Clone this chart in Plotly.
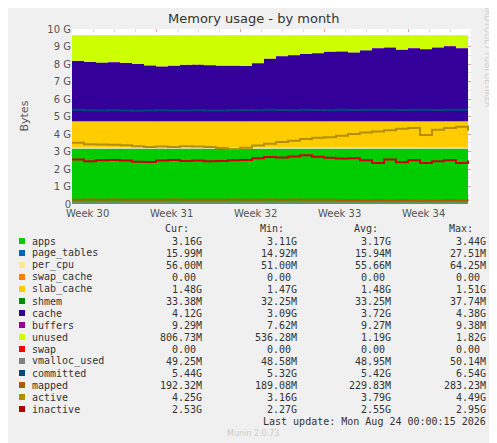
import plotly.graph_objects as go

# days since start of Week 30, one sample per day
days = list(range(34))
apps = [3.16] * 34
page_tables = [0.016] * 34
per_cpu = [0.056] * 34
swap_cache = [0.0] * 34
slab_cache = [1.48] * 34
shmem = [0.033] * 34
cache_top = [8.18, 8.12, 8.08, 8.1, 8.06, 8.0, 7.92, 7.86, 7.9, 7.95, 7.96, 7.93, 7.9, 7.9, 7.88,
             8.05, 8.3, 8.45, 8.5, 8.58, 8.62, 8.7, 8.72, 8.66, 8.78, 8.9, 8.95, 8.82, 8.9, 8.85,
             8.95, 9.02, 8.9, 8.8]
buffers = [0.009] * 34
total = [9.65] * 34
committed = [5.38, 5.36, 5.34, 5.36, 5.35, 5.33, 5.34, 5.36, 5.35, 5.34, 5.36, 5.35, 5.34, 5.36, 5.37,
             5.36, 5.38, 5.37, 5.36, 5.38, 5.37, 5.36, 5.38, 5.37, 5.38, 5.39, 5.38, 5.37, 5.38, 5.38,
             5.37, 5.38, 5.38, 5.38]
mapped = [0.25, 0.26, 0.25, 0.26, 0.25, 0.25, 0.24, 0.25, 0.26, 0.25, 0.25, 0.24, 0.25, 0.26, 0.25,
          0.25, 0.26, 0.25, 0.26, 0.25, 0.25, 0.24, 0.22, 0.21, 0.2, 0.21, 0.2, 0.21, 0.2, 0.19,
          0.2, 0.21, 0.2, 0.19]
vmalloc = [0.049] * 34
active = [3.5, 3.42, 3.4, 3.38, 3.36, 3.3, 3.26, 3.28, 3.26, 3.3, 3.28, 3.26, 3.2, 3.14, 3.22,
          3.35, 3.45, 3.55, 3.62, 3.72, 3.78, 3.82, 3.9, 4.0, 4.08, 4.15, 4.22, 4.3, 4.35, 3.95,
          4.25, 4.35, 4.42, 4.2]
inactive = [2.55, 2.45, 2.5, 2.52, 2.48, 2.42, 2.4, 2.48, 2.52, 2.46, 2.48, 2.44, 2.46, 2.5, 2.52,
            2.62, 2.68, 2.66, 2.72, 2.78, 2.7, 2.64, 2.6, 2.62, 2.5, 2.35, 2.55, 2.38, 2.5, 2.35,
            2.45, 2.5, 2.35, 2.48]

base = [a + b + c + d + e + f for a, b, c, d, e, f in
        zip(apps, page_tables, per_cpu, swap_cache, slab_cache, shmem)]
cache = [t - b for t, b in zip(cache_top, base)]
unused = [tot - t - bu for tot, t, bu in zip(total, cache_top, buffers)]

stack = [("apps", apps, "#00CC00"), ("page_tables", page_tables, "#0066B3"),
         ("per_cpu", per_cpu, "#FFE88A"), ("swap_cache", swap_cache, "#FF8000"),
         ("slab_cache", slab_cache, "#FFCC00"), ("shmem", shmem, "#008F00"),
         ("cache", cache, "#330099"), ("buffers", buffers, "#990099"),
         ("unused", unused, "#CCFF00")]
lines = [("vmalloc_used", vmalloc, "#808080"), ("committed", committed, "#00487D"),
         ("mapped", mapped, "#B35A00"), ("active", active, "#B38F00"),
         ("inactive", inactive, "#CC0000")]

fig = go.Figure()
for name, vals, col in stack:
    fig.add_trace(go.Scatter(x=days, y=vals, stackgroup="s", mode="none", fillcolor=col,
                             line_shape="hv", name=name))
for name, vals, col in lines:
    fig.add_trace(go.Scatter(x=days, y=vals, mode="lines", line=dict(color=col, width=2),
                             line_shape="hv", name=name))

# reference pixel coordinates, shifted for the page offset seen in rendering
DX, DY = 3, 7
L, T, W, H = 67 - DX, 28 - DY, 399, 175


def px(x):
    return (x - DX - L) / W


def py(y):
    return (T + H - (y - DY)) / H


mono = dict(family="DejaVu Sans Mono", size=10, color="#333")
ann = []
for x, t in [(186, "Cur:"), (281, "Min:"), (375, "Avg:"), (470, "Max:")]:
    ann.append(dict(x=px(x), y=py(227), text=t, xanchor="right", font=mono))
legend = [
    ("apps", "#00CC00", "3.16G", "3.11G", "3.17G", "3.44G"),
    ("page_tables", "#0066B3", "15.99M", "14.92M", "15.94M", "27.51M"),
    ("per_cpu", "#FFE88A", "56.00M", "51.00M", "55.66M", "64.25M"),
    ("swap_cache", "#FF8000", "0.00 ", "0.00 ", "0.00 ", "0.00 "),
    ("slab_cache", "#FFCC00", "1.48G", "1.47G", "1.48G", "1.51G"),
    ("shmem", "#008F00", "33.38M", "32.25M", "33.25M", "37.74M"),
    ("cache", "#330099", "4.12G", "3.09G", "3.72G", "4.38G"),
    ("buffers", "#990099", "9.29M", "7.62M", "9.27M", "9.38M"),
    ("unused", "#CCFF00", "806.73M", "536.28M", "1.19G", "1.82G"),
    ("swap", "#FF0000", "0.00 ", "0.00 ", "0.00 ", "0.00 "),
    ("vmalloc_used", "#808080", "49.25M", "48.58M", "48.95M", "50.14M"),
    ("committed", "#00487D", "5.44G", "5.32G", "5.42G", "6.54G"),
    ("mapped", "#B35A00", "192.32M", "189.08M", "229.83M", "283.23M"),
    ("active", "#B38F00", "4.25G", "3.16G", "3.79G", "4.49G"),
    ("inactive", "#B30000", "2.53G", "2.27G", "2.55G", "2.95G"),
]
shapes = []
for i, (name, col, *vals) in enumerate(legend):
    yy = 240 + 12 * i
    shapes.append(dict(type="rect", xref="paper", yref="paper", x0=px(14), x1=px(20),
                       y0=py(yy + 3), y1=py(yy - 3), fillcolor=col, line_width=0))
    ann.append(dict(x=px(25), y=py(yy), text=name, xanchor="left", font=mono))
    for x, v in zip([199, 294, 388, 483], vals):
        ann.append(dict(x=px(x), y=py(yy), text=v.replace(" ", "&nbsp;"), xanchor="right", font=mono))
ann.append(dict(x=px(483), y=py(420), text="Last update: Mon Aug 24 00:00:15 2026",
                xanchor="right", font=mono))
ann.append(dict(x=px(248), y=py(432), text="Munin 2.0.73", font=dict(family="DejaVu Sans", size=8, color="#ccc")))
ann.append(dict(x=px(488), y=py(55), text="RRDTOOL / TOBI OETIKER", textangle=90,
                font=dict(family="DejaVu Sans", size=8, color="#ccc")))
ann.append(dict(x=px(248), y=py(18), text="Memory usage - by month",
                font=dict(family="DejaVu Sans", size=13, color="#333")))
ann.append(dict(x=px(10), y=py(115), text="Bytes", textangle=-90,
                font=dict(family="DejaVu Sans", size=11, color="#555")))
for i, w in enumerate(["Week 30", "Week 31", "Week 32", "Week 33", "Week 34"]):
    ann.append(dict(x=i * 7 + 1.25, xref="x", y=py(212), text=w,
                    font=dict(family="DejaVu Sans", size=10, color="#555")))
for a in ann:
    a.setdefault("xref", "paper")
    a["yref"] = "paper"
    a["showarrow"] = False
    a["yanchor"] = "middle"

fig.update_layout(
    width=497, height=443, margin=dict(l=L, r=497 - L - W, t=T, b=443 - T - H),
    paper_bgcolor="#f0f0f0", plot_bgcolor="#ffffff", showlegend=False,
    annotations=ann, shapes=shapes,
    xaxis=dict(range=[0, 33.25], tickvals=[0, 7, 14, 21, 28], showticklabels=False,
               showgrid=True, gridcolor="rgba(230,120,120,0.6)", griddash="dot",
               minor=dict(dtick=1.75, tick0=0, showgrid=True, gridcolor="#ddd", griddash="dot"),
               zeroline=False, ticks=""),
    yaxis=dict(range=[0, 10], tickvals=list(range(11)),
               ticktext=["0"] + [f"{i} G" for i in range(1, 11)],
               tickfont=dict(family="DejaVu Sans", size=10, color="#555"),
               showgrid=True, gridcolor="rgba(230,120,120,0.6)", griddash="dot",
               minor=dict(dtick=0.5, showgrid=True, gridcolor="#ddd", griddash="dot"),
               zeroline=False),
)
fig.write_html("out.html")
